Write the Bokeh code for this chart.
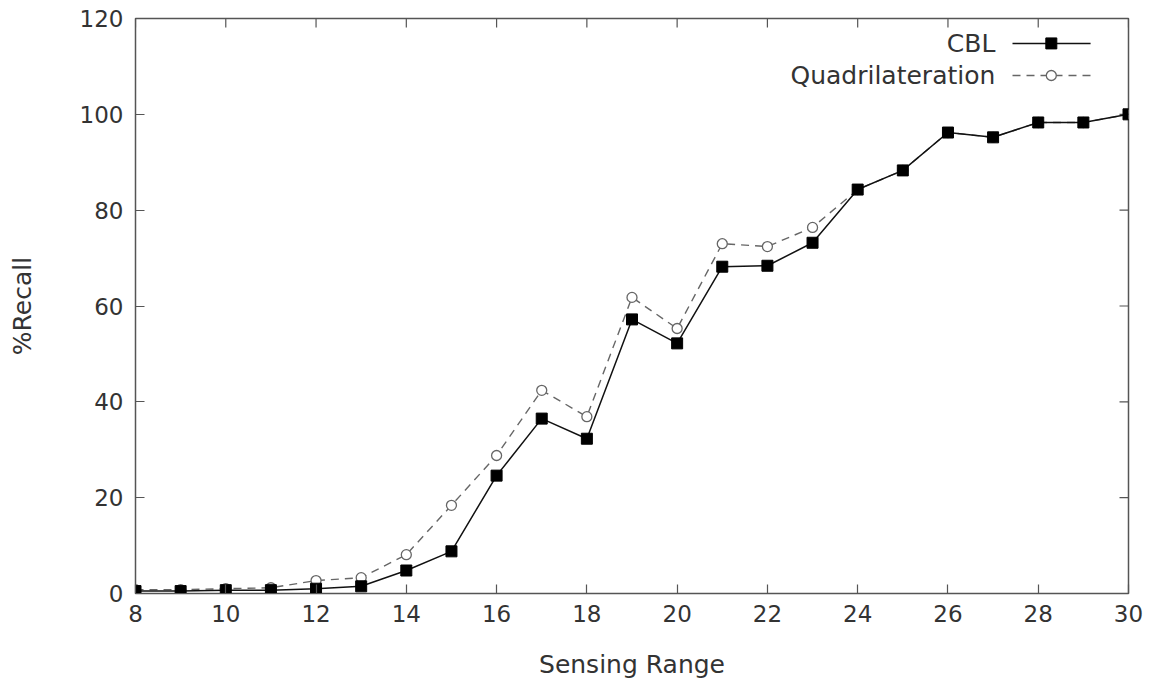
from bokeh.plotting import figure
from bokeh.models import FixedTicker, Range1d, Label, ColumnDataSource
from bokeh.embed import file_html
from bokeh.resources import INLINE

sensing_range = [8, 9, 10, 11, 12, 13, 14, 15, 16, 17, 18, 19, 20, 21, 22, 23, 24, 25, 26, 27, 28, 29, 30]
cbl = [0.5, 0.5, 0.7, 0.7, 1.0, 1.5, 4.8, 8.8, 24.6, 36.5, 32.3, 57.2, 52.2, 68.2, 68.4, 73.2, 84.3, 88.3, 96.2, 95.2, 98.3, 98.3, 100.0]
quad = [0.8, 0.8, 1.0, 1.2, 2.7, 3.3, 8.1, 18.4, 28.8, 42.4, 36.9, 61.8, 55.3, 73.0, 72.4, 76.4, 84.3, 88.3, 96.2, 95.2, 98.3, 98.3, 100.0]
x_ticks = [8, 10, 12, 14, 16, 18, 20, 22, 24, 26, 28, 30]
y_ticks = [0, 20, 40, 60, 80, 100, 120]
legend_labels = ["CBL", "Quadrilateration"]

FONT = "DejaVu Sans"
AX = "#555555"
TXT = "#333333"
XMIN, XMAX, YMIN, YMAX = 8, 30, 0, 120

p = figure(width=1153, height=691, output_backend="svg", toolbar_location=None,
           x_range=Range1d(XMIN, XMAX), y_range=Range1d(YMIN, YMAX),
           min_border_left=135, min_border_right=25, min_border_top=18, min_border_bottom=98)
p.background_fill_color = "white"
p.border_fill_color = "white"
p.outline_line_color = AX
p.outline_line_width = 1.5
p.xgrid.visible = False
p.ygrid.visible = False

for ax, ticks in ((p.xaxis[0], x_ticks), (p.yaxis[0], y_ticks)):
    ax.ticker = FixedTicker(ticks=ticks)
    ax.major_tick_in = 9
    ax.major_tick_out = 0
    ax.minor_tick_line_color = None
    ax.axis_line_color = AX
    ax.major_tick_line_color = AX
    ax.major_tick_line_width = 1.2
    ax.major_label_text_font = FONT
    ax.major_label_text_font_size = "23px"
    ax.major_label_text_color = TXT
    ax.axis_label_text_font = FONT
    ax.axis_label_text_font_size = "25px"
    ax.axis_label_text_font_style = "normal"
    ax.axis_label_text_color = TXT

p.xaxis[0].axis_label = "Sensing Range"
p.yaxis[0].axis_label = "%Recall"
p.xaxis[0].major_label_standoff = 11
p.xaxis[0].axis_label_standoff = 25
p.yaxis[0].major_label_standoff = 12
p.yaxis[0].axis_label_standoff = 40

# inward ticks on top and right edges (gnuplot mirror ticks)
tick_len_y = 9 / 575 * (YMAX - YMIN)
tick_len_x = 9 / 993 * (XMAX - XMIN)
p.segment(x0=x_ticks, y0=[YMAX] * len(x_ticks), x1=x_ticks, y1=[YMAX - tick_len_y] * len(x_ticks),
          line_color=AX, line_width=1.2)
p.segment(x0=[XMAX] * len(y_ticks), y0=y_ticks, x1=[XMAX - tick_len_x] * len(y_ticks), y1=y_ticks,
          line_color=AX, line_width=1.2)

src = ColumnDataSource(dict(x=sensing_range, cbl=cbl, quad=quad))

p.line("x", "quad", source=src, line_color="#666666", line_width=1.4, line_dash="8 6")
p.scatter("x", "quad", source=src, marker="circle", size=10, fill_color="white",
          line_color="#666666", line_width=1.3)
p.line("x", "cbl", source=src, line_color="#111111", line_width=1.5)
p.scatter("x", "cbl", source=src, marker="square", size=11, fill_color="black",
          line_color="black")

# Legend (gnuplot style: label on the left, sample on the right)
lx0, lx1, lxm = 27.43, 29.16, 28.29
ly = [114.8, 108.1]
p.line([lx0, lx1], [ly[0], ly[0]], line_color="#111111", line_width=1.5)
p.scatter([lxm], [ly[0]], marker="square", size=11, fill_color="black", line_color="black")
p.line([lx0, lx1], [ly[1], ly[1]], line_color="#666666", line_width=1.4, line_dash="8 6")
p.scatter([lxm], [ly[1]], marker="circle", size=10, fill_color="white", line_color="#666666", line_width=1.3)
for lab, yy in zip(legend_labels, ly):
    p.add_layout(Label(x=27.05, y=yy, text=lab, text_align="right", text_baseline="middle",
                       text_font=FONT, text_font_size="25px", text_color=TXT))

open("out.html", "w").write(file_html(p, INLINE))
